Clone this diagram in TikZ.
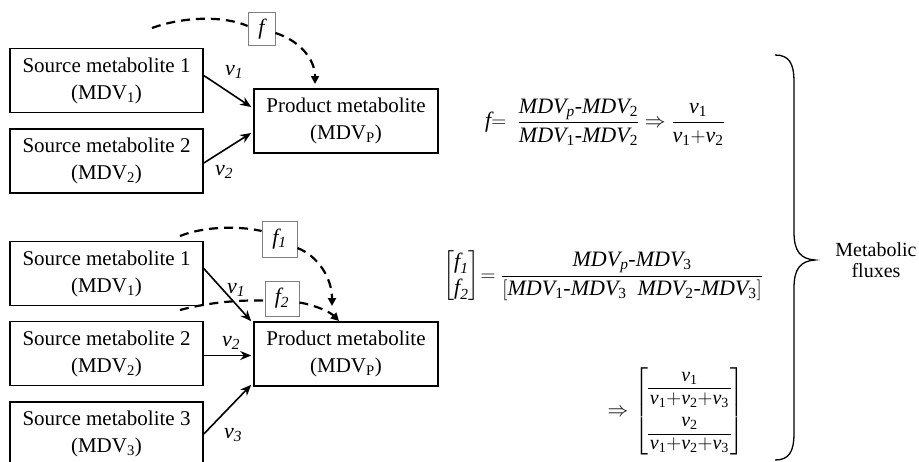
\documentclass[tikz,border=0pt]{standalone}
\usepackage{amsmath}
\usepackage{fontspec}
\setmainfont{Liberation Serif}
\usetikzlibrary{arrows.meta,calc}
\newcommand\ti[1]{\text{\itshape #1}}
\newcommand\tu[1]{\text{#1}}
\newcommand\mdv{\ti{MDV}}
\begin{document}
\begin{tikzpicture}[x=1pt,y=-1pt,
  box/.style={draw,line width=1.6pt,minimum width=193pt,minimum height=64pt,align=center,inner sep=0pt,font=\fontsize{21}{27}\selectfont},
  pbox/.style={box,minimum width=184pt},
  fbox/.style={draw=gray,line width=0.8pt,inner sep=0pt,font=\fontsize{22}{26}\selectfont\itshape},
  flow/.style={line width=1.6pt,-{Stealth[length=11pt,width=9pt]}},
  dflow/.style={line width=2.2pt,dash pattern=on 9pt off 6pt,-{Triangle[length=8pt,width=8pt]}},
  dline/.style={line width=2.2pt,dash pattern=on 9pt off 6pt},
  lab/.style={font=\fontsize{22}{26}\selectfont,inner sep=0pt},
  eq/.style={font=\fontsize{22}{26}\selectfont,inner sep=0pt}]
\useasboundingbox (0,0) rectangle (919,461);
% top group
\node[box] (s1a) at (106.5,80.5) {Source metabolite 1\\(MDV\textsubscript{1})};
\node[box] (s2a) at (106.5,161) {Source metabolite 2\\(MDV\textsubscript{2})};
\node[pbox] (pa) at (346,121) {Product metabolite\\(MDV\textsubscript{P})};
\node[fbox,minimum width=27pt,minimum height=33pt] (fa) at (261.5,29) {f};
\draw[flow] ($(s1a.east)+(0,-5)$) -- ($(pa.west)+(-2,-14)$);
\draw[flow] ($(s2a.east)+(0,2)$) -- ($(pa.west)+(-2,12)$);
\node[lab] (v1a) at (234,72) {\textit{v}\textsubscript{\textit{1}}};
\node[lab] (v2a) at (224,172) {\textit{v}\textsubscript{\textit{2}}};
\coordinate (da) at (152,28);
\coordinate (ea) at (315,84);
\draw[dline] (da) .. controls (185,16) and (225,16) .. ($(fa.west)+(0,-3)$);
\draw[dflow] ($(fa.east)+(0,4)$) .. controls (298,40) and (315,58) .. (ea);
% bottom group
\node[box] (s1b) at (106.5,273.5) {Source metabolite 1\\(MDV\textsubscript{1})};
\node[box] (s2b) at (106.5,353.5) {Source metabolite 2\\(MDV\textsubscript{2})};
\node[box] (s3b) at (106.5,434) {Source metabolite 3\\(MDV\textsubscript{3})};
\node[pbox] (pb) at (346,354) {Product metabolite\\(MDV\textsubscript{P})};
\node[fbox,minimum width=35pt,minimum height=36pt] (f1) at (279.5,239) {f\textsubscript{1}};
\node[fbox,minimum width=34pt,minimum height=35pt] (f2) at (282,298.5) {f\textsubscript{2}};
\draw[flow] ($(s1b.east)+(0,-5)$) -- ($(pb.north west)+(-2,0)$);
\draw[flow] ($(s2b.east)+(0,2)$) -- ($(pb.west)+(-2,1.5)$);
\draw[flow] (s3b.east) -- ($(pb.south west)+(-2,-2)$);
\node[lab] (v1b) at (236,290) {\textit{v}\textsubscript{\textit{1}}};
\node[lab] (v2b) at (231,343) {\textit{v}\textsubscript{\textit{2}}};
\node[lab] (v3b) at (233,435) {\textit{v}\textsubscript{\textit{3}}};
\coordinate (d1) at (180,236);
\coordinate (e1) at (332,306);
\draw[dline] (d1) .. controls (205,226) and (240,226) .. ($(f1.west)+(0,-8)$);
\draw[dflow] ($(f1.east)+(0,9)$) .. controls (318,256) and (332,278) .. (e1);
\coordinate (d2) at (180,310);
\coordinate (e2) at (339,321);
\draw[dline] (d2) .. controls (210,302) and (240,300) .. ($(f2.west)+(0,2)$);
\draw[dflow] ($(f2.east)+(0,4)$) .. controls (315,305) and (330,312) .. (e2);
% equations
\node[eq,anchor=west] (eqa) at (485,122) {$\ti{f}{=}\;\;\dfrac{\mdv_{\ti{p}}\text{-}\mdv_{\tu{2}}}{\mdv_{\tu{1}}\text{-}\mdv_{\tu{2}}}\Rightarrow\dfrac{\ti{v}_{\tu{1}}}{\ti{v}_{\tu{1}}{+}\ti{v}_{\tu{2}}}$};
\node[eq,anchor=west] (eqb) at (443,276) {$\left[\begin{array}{@{}c@{}}\ti{f}_{\ti{1}}\\ \ti{f}_{\ti{2}}\end{array}\right]\mkern-2mu{=}\;\dfrac{\mdv_{\ti{p}}\text{-}\mdv_{\tu{3}}}{[\mdv_{\tu{1}}\text{-}\mdv_{\tu{3}}\enspace\mdv_{\tu{2}}\text{-}\mdv_{\tu{3}}]}$};
\node[eq,anchor=east,font=\fontsize{20}{22.5}\selectfont] (eqc) at (745,411) {$\Rightarrow\left[\begin{tabular}{@{\hspace{2pt}}c@{\hspace{2pt}}}$\ti{v}_{\tu{1}}$\\\hline $\ti{v}_{\tu{1}}{+}\ti{v}_{\tu{2}}{+}\ti{v}_{\tu{3}}$\\ $\ti{v}_{\tu{2}}$\\\hline $\ti{v}_{\tu{1}}{+}\ti{v}_{\tu{2}}{+}\ti{v}_{\tu{3}}$\end{tabular}\right]$};
% brace
\draw[line width=1.3pt] (775,55) .. controls (789,55) and (794,63) .. (794,82) -- (794,232) .. controls (794,252) and (801,259) .. (815,260) .. controls (801,261) and (794,268) .. (794,288) -- (794,433) .. controls (794,452) and (789,460) .. (775,460);
\node[lab,align=center,font=\fontsize{20}{21}\selectfont] (mf) at (876,260) {Metabolic\\fluxes};
\end{tikzpicture}
\end{document}
